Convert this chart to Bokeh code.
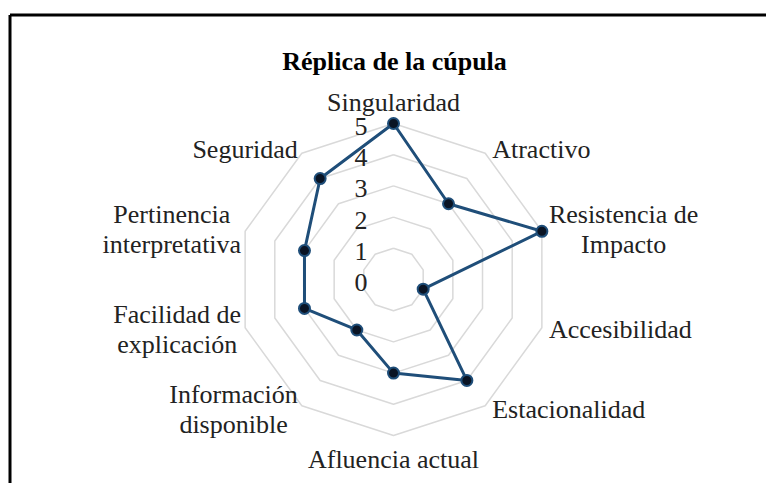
import numpy as np
from bokeh.plotting import figure
from bokeh.models import Range1d, ColumnDataSource
from bokeh.core.properties import value
from bokeh.embed import file_html
from bokeh.resources import INLINE

# ---- data ----
title_text = "Réplica de la cúpula"
categories = ["Singularidad", "Atractivo", "Resistencia de\nImpacto", "Accesibilidad",
              "Estacionalidad", "Afluencia actual", "Información\ndisponible",
              "Facilidad de\nexplicación", "Pertinencia\ninterpretativa", "Seguridad"]
scores = [5, 3, 5, 1, 4, 3, 2, 3, 3, 4]
tick_values = [0, 1, 2, 3, 4, 5]
tick_labels = ["0", "1", "2", "3", "4", "5"]

# ---- layout ----
W, H = 766, 483
PX = 31.2              # pixels per score unit
CX, CY = 393, 279      # centre of radar in page pixels
RMAX = 5
FONT = "Liberation Serif"
FS = 26                # label font size px
LINE_H = 30            # px between lines of multi-line labels

# approximate Times-like advance widths (per 1000 em) for layout of label blocks
_CW = {'a': 444, 'b': 500, 'c': 444, 'd': 500, 'e': 444, 'f': 333, 'g': 500, 'h': 500,
       'i': 278, 'j': 278, 'k': 500, 'l': 278, 'm': 778, 'n': 500, 'o': 500, 'p': 500,
       'q': 500, 'r': 333, 's': 389, 't': 278, 'u': 500, 'v': 500, 'w': 722, 'x': 500,
       'y': 500, 'z': 444, ' ': 250, 'ó': 500, 'á': 444, 'é': 444, 'ú': 500, 'í': 278,
       'I': 333, 'R': 667, 'F': 556, 'P': 556, 'S': 556, 'A': 722, 'E': 611}


def text_w(s):
    return sum(_CW.get(c, 500) for c in s) / 1000 * FS


p = figure(width=W, height=H, output_backend="svg", toolbar_location=None,
           x_range=Range1d(-CX / PX, (W - CX) / PX),
           y_range=Range1d(-(H - CY) / PX, CY / PX),
           min_border=0, outline_line_color=None)
p.axis.visible = False
p.grid.visible = False
p.background_fill_color = "white"
p.border_fill_color = "white"

n = len(categories)
ang = np.arange(n) * 2 * np.pi / n
sx, sy = np.sin(ang), np.cos(ang)

# outer chart frame (left and top edges visible)
xl = (9.5 - CX) / PX
yt = (CY - 14.5) / PX
p.segment(x0=[xl, xl], y0=[yt, yt], x1=[xl, (W - CX) / PX], y1=[-(H - CY) / PX, yt],
          line_color="black", line_width=3)

# grid rings
for t in tick_values[1:]:
    xs = list(t * sx) + [t * sx[0]]
    ys = list(t * sy) + [t * sy[0]]
    p.line(xs, ys, line_color="#d9d9d9", line_width=1.5)

# tick labels
p.text(x=[-26 / PX] * len(tick_values), y=[v - 3 / PX for v in tick_values], text=tick_labels,
       text_align="right", text_baseline="middle", text_font=value(FONT),
       text_font_size=f"{FS}px", text_color="#222222")

# series
vals = np.array(scores, dtype=float)
xs = list(vals * sx) + [vals[0] * sx[0]]
ys = list(vals * sy) + [vals[0] * sy[0]]
p.line(xs, ys, line_color="#1f4e79", line_width=3)
p.scatter(vals * sx, vals * sy, size=11, marker="circle", fill_color="#0a1424",
          line_color="#1f4e79", line_width=2)

# category labels: each line centred within its block
lx, ly, lt, lb = [], [], [], []
for i in range(n):
    vx, vy = RMAX * sx[i] * PX, RMAX * sy[i] * PX   # px offsets from centre
    lines = categories[i].split("\n")
    bw = max(text_w(s) for s in lines)
    nl = len(lines)
    if sx[i] > 0.1:
        bx = vx + 7 + bw / 2
        by = vy + sy[i] * 5
        base = "middle"
    elif sx[i] < -0.1:
        bx = vx - 4 - bw / 2
        by = vy + sy[i] * 5
        base = "middle"
    elif sy[i] > 0:
        bx, by, base = vx, vy + 7, "bottom"
    else:
        bx, by, base = vx, vy - 9, "top"
    for k, s in enumerate(lines):
        off = ((nl - 1) / 2 - k) * LINE_H if base == "middle" else 0
        lx.append(bx / PX)
        ly.append((by + off) / PX)
        lt.append(s)
        lb.append(base)
src = ColumnDataSource(dict(x=lx, y=ly, t=lt, b=lb))
p.text(x="x", y="y", text="t", text_align="center", text_baseline="b", source=src,
       text_font=value(FONT), text_font_size=f"{FS}px", text_color="#222222")

# title
p.text(x=[1 / PX], y=[(CY - 61) / PX], text=[title_text], text_align="center",
       text_baseline="alphabetic", text_font=value(FONT), text_font_style="bold",
       text_font_size="26px", text_color="black")

open("out.html", "w").write(file_html(p, INLINE))
